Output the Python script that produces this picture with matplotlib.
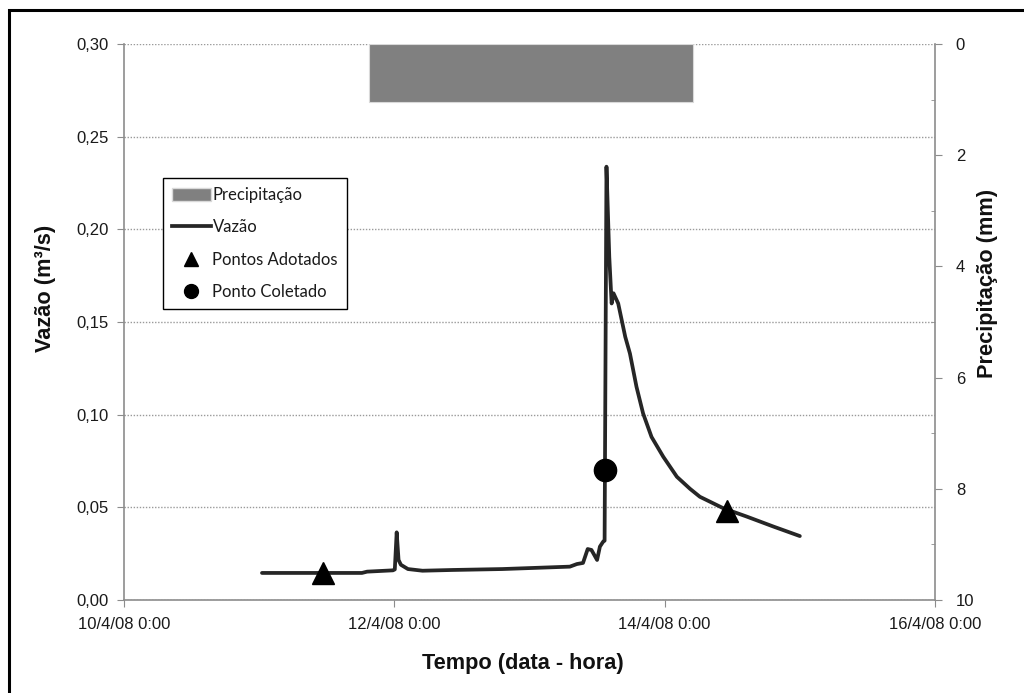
import matplotlib
matplotlib.use("Agg")
import matplotlib.pyplot as plt
import matplotlib.dates as mdates
from matplotlib.patches import Patch, Rectangle
from matplotlib.lines import Line2D
from matplotlib.ticker import FuncFormatter, MultipleLocator
import pandas as pd

# Hydrograph: discharge (m³/s) over time
flow_times = [
    "2008-04-11 00:30", "2008-04-11 18:15", "2008-04-11 19:10", "2008-04-11 23:45",
    "2008-04-12 00:05", "2008-04-12 00:25", "2008-04-12 00:45", "2008-04-12 01:10",
    "2008-04-12 02:25", "2008-04-12 05:00", "2008-04-12 10:20", "2008-04-12 19:10",
    "2008-04-13 07:10", "2008-04-13 08:25", "2008-04-13 09:30", "2008-04-13 10:20",
    "2008-04-13 11:00", "2008-04-13 12:00", "2008-04-13 12:30", "2008-04-13 13:05",
    "2008-04-13 13:20", "2008-04-13 13:40", "2008-04-13 14:10", "2008-04-13 14:35",
    "2008-04-13 14:55", "2008-04-13 15:45", "2008-04-13 17:00", "2008-04-13 17:50",
    "2008-04-13 19:00", "2008-04-13 20:10", "2008-04-13 21:40", "2008-04-13 23:45",
    "2008-04-14 02:10", "2008-04-14 04:30", "2008-04-14 06:15", "2008-04-14 10:25",
    "2008-04-14 14:35", "2008-04-14 19:20", "2008-04-15 00:00",
]
flow_values = [
    0.0146, 0.0146, 0.0153, 0.0160,
    0.0165, 0.0365, 0.0216, 0.0190,
    0.0167, 0.0158, 0.0162, 0.0167,
    0.0180, 0.0194, 0.0200, 0.0275,
    0.0270, 0.0216, 0.0288, 0.0315,
    0.0320, 0.2338, 0.1850, 0.1600,
    0.1655, 0.1600, 0.1420, 0.1330,
    0.1150, 0.1007, 0.0880, 0.0773,
    0.0665, 0.0600, 0.0557, 0.0495,
    0.0450, 0.0396, 0.0345,
]

# Adopted points and the sampled point
adopted_times = ["2008-04-11 11:20", "2008-04-14 11:05"]
adopted_values = [0.0146, 0.0480]
sampled_times = ["2008-04-13 13:25"]
sampled_values = [0.0701]

# Rainfall block (mm)
rain_start = ["2008-04-11 19:30"]
rain_end = ["2008-04-14 05:00"]
rain_depth = [1.05]

x_ticks = ["2008-04-10", "2008-04-12", "2008-04-14", "2008-04-16"]

plt.rcParams["font.family"] = ["Liberation Sans", "DejaVu Sans"]

fig = plt.figure(figsize=(10.24, 6.93), dpi=100)
ax = fig.add_axes([124 / 1024, 1 - 600 / 693, (935 - 124) / 1024, (600 - 44) / 693])
ax2 = ax.twinx()

ft = pd.to_datetime(flow_times)
ax.plot(ft, flow_values, color="#262626", lw=2.7, solid_joinstyle="round",
        solid_capstyle="round", zorder=3)
ax.plot(pd.to_datetime(adopted_times), adopted_values, ls="none", marker="^",
        ms=16, color="black", zorder=4)
ax.plot(pd.to_datetime(sampled_times), sampled_values, ls="none", marker="o",
        ms=16, color="black", zorder=4)

rs = mdates.date2num(pd.to_datetime(rain_start))
re_ = mdates.date2num(pd.to_datetime(rain_end))
ax2.bar(rs, rain_depth, width=re_ - rs, align="edge", color="#808080",
        edgecolor="#d9d9d9", linewidth=0.8)

# Axes limits and ticks
ax.set_xlim(pd.Timestamp("2008-04-10"), pd.Timestamp("2008-04-16"))
ax.set_ylim(0, 0.30)
ax2.set_ylim(10, 0)
ax.set_xticks(pd.to_datetime(x_ticks))


def fmt_date(x, pos):
    d = mdates.num2date(x)
    return f"{d.day}/{d.month}/{d:%y} {d.hour}:{d:%M}"


ax.xaxis.set_major_formatter(FuncFormatter(fmt_date))
ax.yaxis.set_major_locator(MultipleLocator(0.05))
ax.yaxis.set_major_formatter(FuncFormatter(lambda v, p: f"{v:.2f}".replace(".", ",")))
ax2.yaxis.set_major_locator(MultipleLocator(2))
ax2.yaxis.set_minor_locator(MultipleLocator(1))

axis_gray = "#8c8c8c"
for a in (ax, ax2):
    a.spines["top"].set_visible(False)
    for s in ("left", "right", "bottom"):
        a.spines[s].set_color(axis_gray)
        a.spines[s].set_linewidth(1.2)
ax.spines["right"].set_visible(False)
ax2.spines["left"].set_visible(False)
ax2.spines["bottom"].set_visible(False)

tick_size = 12
ax.tick_params(axis="both", which="major", direction="out", length=5,
               color=axis_gray, labelsize=tick_size, labelcolor="#1a1a1a")
ax.tick_params(axis="x", pad=7)
ax.tick_params(axis="y", pad=6)
ax2.tick_params(axis="y", which="major", direction="out", length=5,
                color=axis_gray, labelsize=tick_size, labelcolor="#1a1a1a", pad=10)
ax2.tick_params(axis="y", which="minor", direction="in", length=3, color=axis_gray)

ax.yaxis.grid(True, color="#9a9a9a", linestyle=(0, (1, 1.2)), linewidth=1.0)
ax.set_axisbelow(True)

# Axis titles
title_size = 15.7
fig.text(523 / 1024, 1 - 663 / 693, "Tempo (data - hora)", ha="center", va="center",
         fontsize=title_size, fontweight="bold", color="#111111")
fig.text(45 / 1024, 1 - 288 / 693, "Vazão (m³/s)", ha="center", va="center",
         rotation=90, fontsize=title_size, fontweight="bold", color="#111111")
fig.text(987 / 1024, 1 - 283 / 693, "Precipitação (mm)", ha="center", va="center",
         rotation=90, fontsize=title_size, fontweight="bold", color="#111111")

# Legend
handles = [
    Patch(facecolor="#808080", edgecolor="#d9d9d9"),
    Line2D([], [], color="#262626", lw=2.7),
    Line2D([], [], ls="none", marker="^", ms=10, color="black"),
    Line2D([], [], ls="none", marker="o", ms=10, color="black"),
]
labels = ["Precipitação", "Vazão", "Pontos Adotados", "Ponto Coletado"]
leg = ax2.legend(handles, labels, loc="upper left",
                 bbox_to_anchor=(163 / 1024, 1 - 178 / 693),
                 bbox_transform=fig.transFigure, borderaxespad=0,
                 prop={"family": ["Lato", "DejaVu Sans"], "size": 12},
                 frameon=True, fancybox=False, edgecolor="black", framealpha=1,
                 handlelength=2.3, handleheight=0.8, handletextpad=0.12,
                 labelspacing=0.98, borderpad=0.55)
leg.get_frame().set_linewidth(1.0)
for t in leg.get_texts():
    t.set_color("#1a1a1a")

# Outer chart border
fig.add_artist(Rectangle((9 / 1024, -0.1), 1.2, 1.1 - 10 / 693, transform=fig.transFigure,
                         fill=False, edgecolor="black", linewidth=2.2))

fig.savefig("out.png", dpi=100)
